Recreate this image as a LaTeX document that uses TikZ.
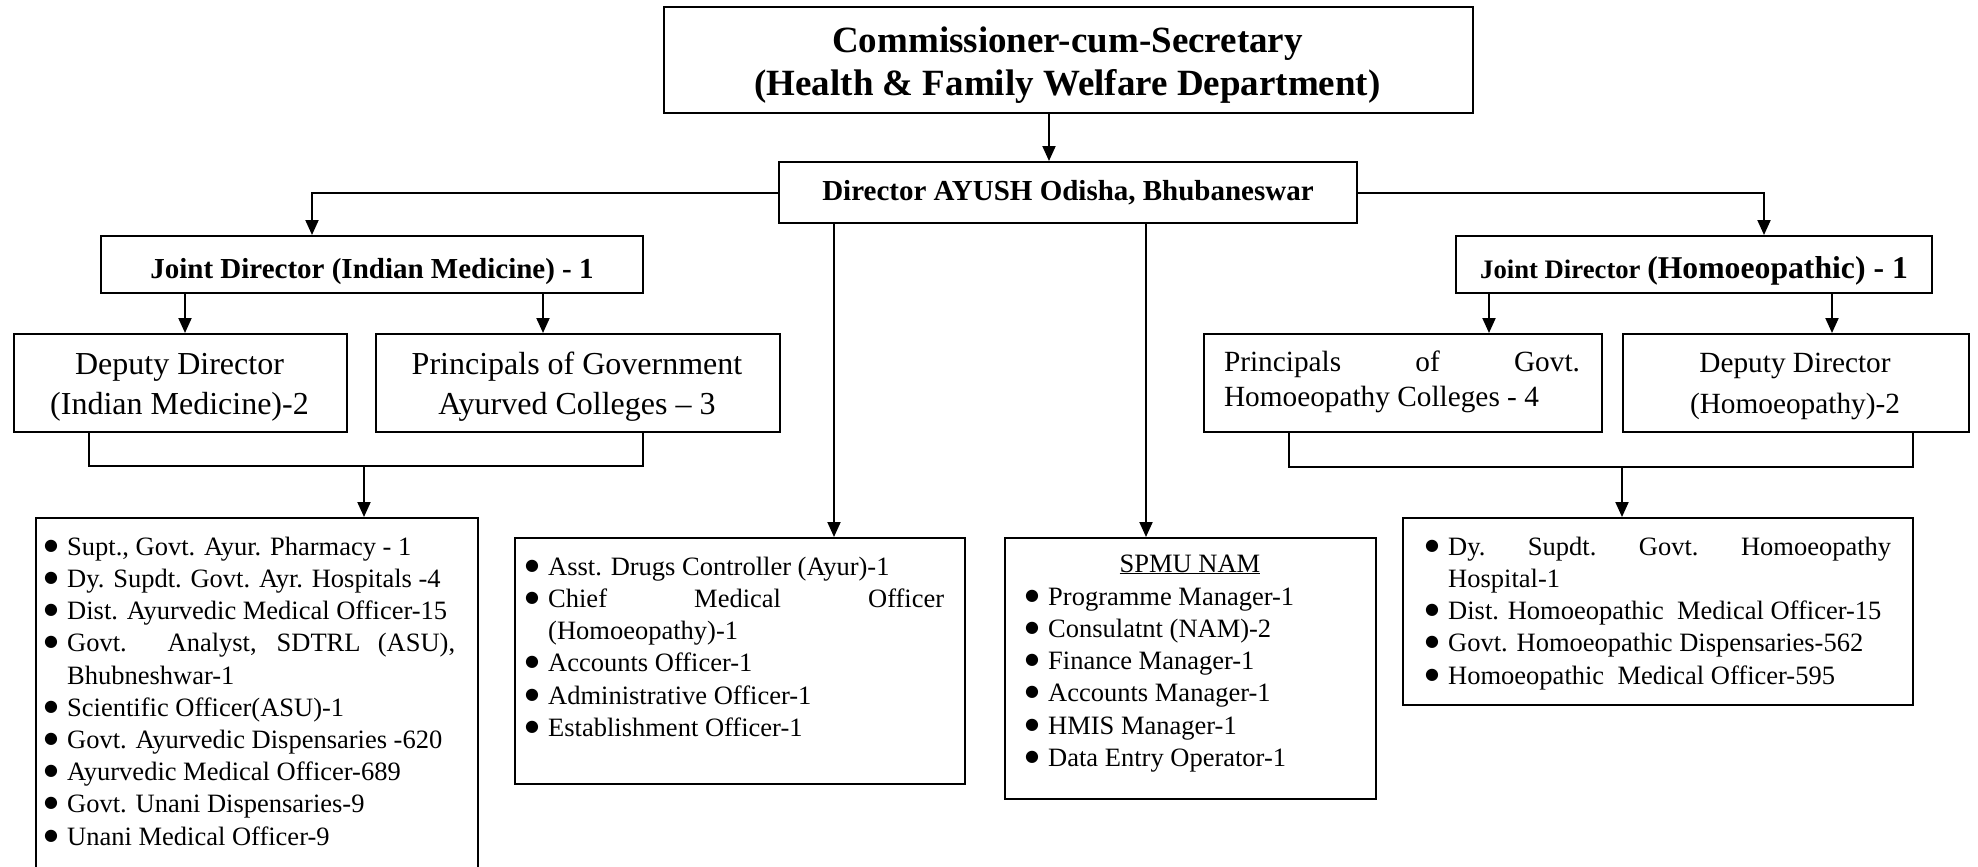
\documentclass[tikz,border=0pt]{standalone}
\usepackage{fontspec}
\setmainfont{Liberation Serif}
\newfontfamily\symf{DejaVu Sans}
\usetikzlibrary{arrows.meta,calc}
\tikzset{
  box/.style={draw, line width=2pt, inner sep=0pt, anchor=north west, align=center},
  tnode/.style={inner sep=0pt, anchor=north, align=center},
  conn/.style={line width=2pt},
  arr/.style={conn, -{Triangle[length=15pt,width=13pt]}},
  listtxt/.style={inner sep=0pt, anchor=north west, align=left, font=\fontsize{26.5}{32.2}\selectfont},
  bigf/.style={font=\bfseries\fontsize{37}{43}\selectfont},
  midf/.style={font=\bfseries\fontsize{29}{34}\selectfont},
  regf/.style={font=\fontsize{32}{40}\selectfont},
  regsf/.style={font=\fontsize{29.3}{41.5}\selectfont},
  regtf/.style={font=\fontsize{29.3}{35}\selectfont},
}
\newcommand{\fl}{\rule{0pt}{30pt}}
\newcommand{\bul}{\makebox[23pt][l]{\raisebox{5pt}{\symf\fontsize{16}{16}\selectfont ●}}}
\newcommand{\ind}{\hspace*{23pt}}
\begin{document}
\begin{tikzpicture}[x=1pt,y=-1pt]
\useasboundingbox (0,0) rectangle (1978,867);
% boxes
\node[box, minimum width=809pt, minimum height=106pt] (comm) at (663,6) {};
\node[tnode, bigf] (commt) at (1067.5,22.5)
  {\fl Commissioner-cum-Secretary\\(Health \& Family Welfare Department)};
\node[box, midf, minimum width=578pt, minimum height=61pt] (dir) at (778,161)
  {Director AYUSH Odisha, Bhubaneswar};
\node[box, midf, text height=31pt, text depth=4pt, minimum width=542pt, minimum height=57pt] (jdim) at (100,235)
  {Joint Director (Indian Medicine) - 1};
\node[box, text height=31pt, text depth=4pt, minimum width=476pt, minimum height=57pt, font=\bfseries] (jdh) at (1455,235)
  {{\fontsize{26.7}{30}\selectfont Joint Director }{\fontsize{31.7}{34}\selectfont (Homoeopathic) - 1}};
\node[box, minimum width=333pt, minimum height=98pt] (ddim) at (13,333) {};
\node[tnode, regf] (ddimt) at (179.5,344.5) {\fl Deputy Director\\(Indian Medicine)-2};
\node[box, minimum width=404pt, minimum height=98pt] (pgov) at (375,333) {};
\node[tnode, regf] (pgovt) at (577,344.5) {\fl Principals of Government\\Ayurved Colleges -- 3};
\node[box, minimum width=398pt, minimum height=98pt] (phom) at (1203,333) {};
\node[tnode, regtf, align=left] (phomt) at (1402,341)
  {\fl\makebox[356pt][s]{Principals of Govt.}\\Homoeopathy Colleges - 4};
\node[box, minimum width=346pt, minimum height=98pt] (ddh) at (1622,333) {};
\node[tnode, regsf] (ddht) at (1795,342) {\fl Deputy Director\\(Homoeopathy)-2};
\node[box, minimum width=442pt, minimum height=360pt] (lbox) at (35,517) {};
\node[box, minimum width=450pt, minimum height=246pt] (mbox) at (514,537) {};
\node[box, minimum width=371pt, minimum height=261pt] (sbox) at (1004,537) {};
\node[box, minimum width=510pt, minimum height=187pt] (rbox) at (1402,517) {};
% list texts
\node[listtxt] (lbt) at (44,525) {\fl\bul Supt., Govt. Ayur. Pharmacy - 1\\
\bul Dy. Supdt. Govt. Ayr. Hospitals -4\\
\bul Dist. Ayurvedic Medical Officer-15\\
\bul \makebox[388pt][s]{Govt. Analyst, SDTRL (ASU),}\\
\ind Bhubneshwar-1\\
\bul Scientific Officer(ASU)-1\\
\bul Govt. Ayurvedic Dispensaries -620\\
\bul Ayurvedic Medical Officer-689\\
\bul Govt. Unani Dispensaries-9\\
\bul Unani Medical Officer-9};
\node[listtxt] (mbt) at (525,545) {\fl\bul Asst. Drugs Controller (Ayur)-1\\
\bul \makebox[396pt][s]{Chief Medical Officer}\\
\ind (Homoeopathy)-1\\
\bul Accounts Officer-1\\
\bul Administrative Officer-1\\
\bul Establishment Officer-1};
\node[anchor=base, inner sep=0pt, font=\fontsize{26.5}{32.2}\selectfont] (spmut) at (1190,572) {\underline{SPMU NAM}};
\node[listtxt] (sbt) at (1025,575) {\fl\bul Programme Manager-1\\
\bul Consulatnt (NAM)-2\\
\bul Finance Manager-1\\
\bul Accounts Manager-1\\
\bul HMIS Manager-1\\
\bul Data Entry Operator-1};
\node[listtxt] (rbt) at (1425,525) {\fl\bul \makebox[443pt][s]{Dy. Supdt. Govt. Homoeopathy}\\
\ind Hospital-1\\
\bul Dist. Homoeopathic\ \ Medical Officer-15\\
\bul Govt. Homoeopathic Dispensaries-562\\
\bul Homoeopathic\ \ Medical Officer-595};
% connector coordinates
\coordinate (xa) at (1049,0);
\coordinate (xb) at (312,0);
\coordinate (xc) at (1764,0);
\coordinate (xd) at (185,0);
\coordinate (xe) at (543,0);
\coordinate (xf) at (834,0);
\coordinate (xg) at (1146,0);
\coordinate (xh) at (1489,0);
\coordinate (xi) at (1832,0);
\coordinate (bl1) at (89,466);
\coordinate (bl2) at (643,466);
\coordinate (blm) at (364,466);
\coordinate (br1) at (1289,467);
\coordinate (br2) at (1913,467);
\coordinate (brm) at (1622,467);
% connectors
\draw[arr] (comm.south -| xa) -- (dir.north -| xa);
\draw[arr] (dir.west) -| (jdim.north -| xb);
\draw[arr] (dir.east) -| (jdh.north -| xc);
\draw[arr] (jdim.south -| xd) -- (ddim.north -| xd);
\draw[arr] (jdim.south -| xe) -- (pgov.north -| xe);
\draw[arr] (dir.south -| xf) -- (mbox.north -| xf);
\draw[arr] (dir.south -| xg) -- (sbox.north -| xg);
\draw[arr] (jdh.south -| xh) -- (phom.north -| xh);
\draw[arr] (jdh.south -| xi) -- (ddh.north -| xi);
\draw[conn] (ddim.south -| bl1) -- (bl1) -- (bl2) -- (pgov.south -| bl2);
\draw[arr] (blm) -- (lbox.north -| blm);
\draw[conn] (phom.south -| br1) -- (br1) -- (br2) -- (ddh.south -| br2);
\draw[arr] (brm) -- (rbox.north -| brm);
\end{tikzpicture}
\end{document}
